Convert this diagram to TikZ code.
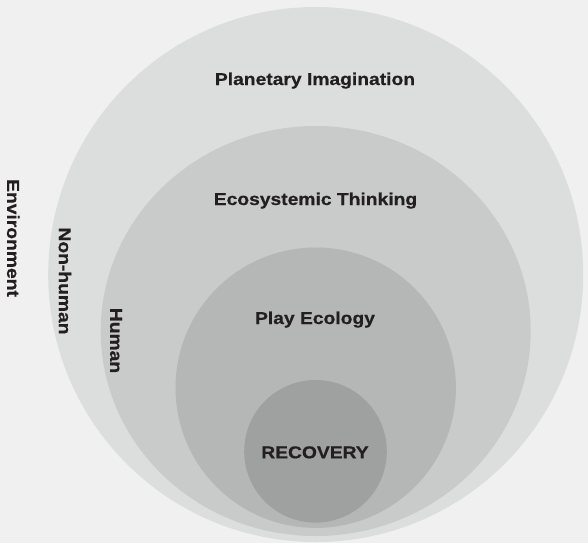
\documentclass[tikz,border=0pt]{standalone}
\usepackage{fontspec}
\newfontfamily\labelfont{Liberation Sans Bold}[FakeStretch=1.12, FakeBold=0.6]

\definecolor{paper}{HTML}{F0F0F0}
\definecolor{ringA}{HTML}{DCDEDD}
\definecolor{ringB}{HTML}{C9CBCA}
\definecolor{ringC}{HTML}{B5B7B6}
\definecolor{ringD}{HTML}{9FA1A0}
\definecolor{ink}{HTML}{231F20}

\tikzset{
  layer/.style={font=\labelfont\fontsize{17.2}{20}\selectfont, text=ink, inner sep=0pt, anchor=base},
  side/.style={layer, anchor=center, rotate=-90}
}

\begin{document}
\begin{tikzpicture}[x=1pt, y=-1pt]
        \useasboundingbox (0,0) rectangle (588,543);
        \fill[paper] (0,0) rectangle (588,543);
        % nested rings
        \fill[ringA] (315.7,274.5) circle (267.5pt);
        \fill[ringB] (315.7,331) ellipse [x radius=215pt, y radius=205pt];
        \fill[ringC] (315.7,387.7) circle (140.2pt);
        \fill[ringD] (315.5,451.3) circle (71.3pt);
        % ring titles
        \node[layer] (planetary) at (315,85) {Planetary Imagination};
        \node[layer] (ecosystemic) at (315.5,205) {Ecosystemic Thinking};
        \node[layer] (play) at (315,324) {Play Ecology};
        \node[layer] (recovery) at (315,458.3) {RECOVERY};
        % side labels
        \node[side] (environment) at (13.3,238) {Environment};
        \node[side] (nonhuman) at (65,281) {Non-human};
        \node[side] (human) at (116,340.5) {Human};
    \end{tikzpicture}
\end{document}
